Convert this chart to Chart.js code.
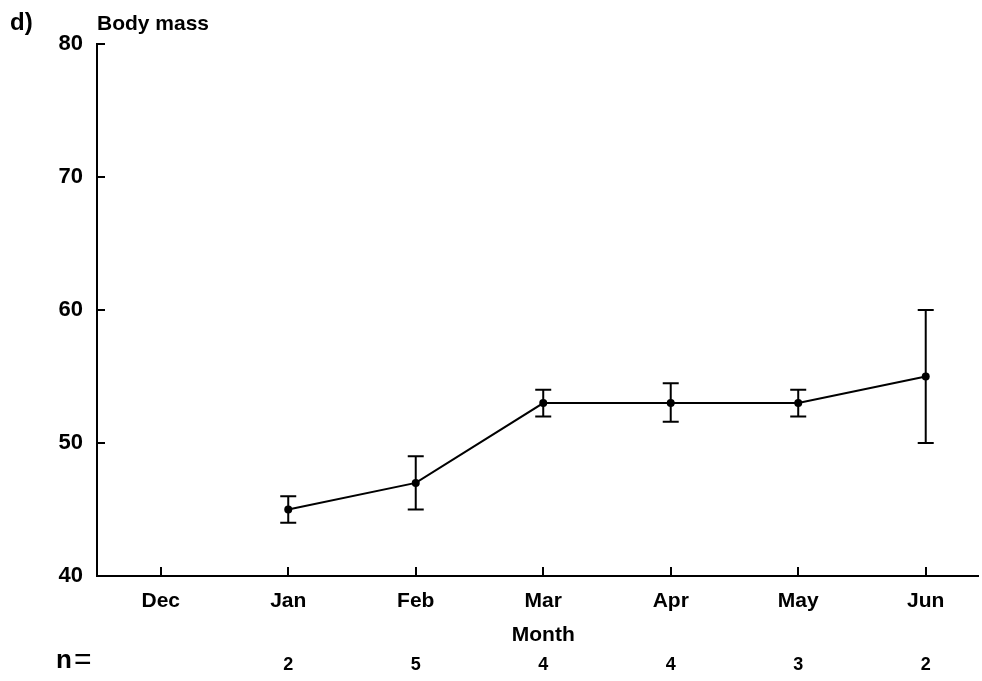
<!DOCTYPE html>
<html>
<head>
<meta charset="utf-8">
<script src="https://cdn.jsdelivr.net/npm/chart.js"></script>
<style>
  html, body { margin: 0; padding: 0; background: #fff; overflow: hidden; }
</style>
</head>
<body>
<canvas id="massChart" width="982" height="681"></canvas>
<script>
    // values
    const months = ['Dec', 'Jan', 'Feb', 'Mar', 'Apr', 'May', 'Jun'];
    const meanMass = [null, 45, 47, 53, 53, 53, 55];
    const lowMass = [null, 44, 45, 52, 51.6, 52, 50];
    const highMass = [null, 46, 49, 54, 54.5, 54, 60];
    const sampleN = ['', '2', '5', '4', '4', '3', '2'];
    const yTicks = [40, 50, 60, 70, 80];

    const FONT = "'Liberation Sans', Arial, Helvetica, sans-serif";
    const BLACK = '#000';

    const points = [];
    months.forEach((m, i) => {
        if (meanMass[i] !== null) points.push({ x: i, y: meanMass[i] });
    });

    // inward ticks, error bars and the loose texts
    const extras = {
        id: 'extras',
        beforeDatasetsDraw(chart) {
            const ctx = chart.ctx;
            const xs = chart.scales.x;
            const ys = chart.scales.y;
            ctx.save();
            ctx.strokeStyle = BLACK;
            ctx.lineWidth = 2;
            // error bars
            months.forEach((m, i) => {
                if (meanMass[i] === null) return;
                const px = xs.getPixelForValue(i);
                const top = ys.getPixelForValue(highMass[i]);
                const bot = ys.getPixelForValue(lowMass[i]);
                ctx.beginPath();
                ctx.moveTo(px, top); ctx.lineTo(px, bot);
                ctx.moveTo(px - 8, top); ctx.lineTo(px + 8, top);
                ctx.moveTo(px - 8, bot); ctx.lineTo(px + 8, bot);
                ctx.stroke();
            });
            ctx.restore();
        },
        afterDraw(chart) {
            const ctx = chart.ctx;
            const xs = chart.scales.x;
            const ys = chart.scales.y;
            const area = chart.chartArea;
            ctx.save();
            ctx.strokeStyle = BLACK;
            ctx.lineWidth = 2;
            ctx.beginPath();
            yTicks.forEach(v => {
                const py = Math.round(ys.getPixelForValue(v));
                ctx.moveTo(area.left, py); ctx.lineTo(area.left + 8, py);
            });
            months.forEach((m, i) => {
                const px = Math.round(xs.getPixelForValue(i));
                ctx.moveTo(px, area.bottom); ctx.lineTo(px, area.bottom - 9);
            });
            ctx.stroke();

            ctx.fillStyle = BLACK;
            ctx.textBaseline = 'alphabetic';
            ctx.textAlign = 'left';
            ctx.font = 'bold 24px ' + FONT;
            ctx.fillText('d)', 10, 30);
            ctx.font = 'bold 21px ' + FONT;
            ctx.fillText('Body mass', 97, 30);

            ctx.textAlign = 'center';
            ctx.textBaseline = 'middle';
            ctx.fillText('Month', xs.getPixelForValue(3), 635);

            ctx.textAlign = 'left';
            ctx.font = 'bold 26px ' + FONT;
            ctx.fillText('n', 56, 661);
            ctx.font = '30px ' + FONT;
            ctx.fillText('=', 74, 661);
            ctx.textAlign = 'center';
            ctx.font = 'bold 18px ' + FONT;
            sampleN.forEach((n, i) => {
                if (n) ctx.fillText(n, xs.getPixelForValue(i), 665);
            });
            ctx.restore();
        }
    };

    new Chart(document.getElementById('massChart'), {
        type: 'scatter',
        data: {
            datasets: [{
                label: 'Body mass',
                data: points,
                showLine: true,
                borderColor: BLACK,
                backgroundColor: BLACK,
                borderWidth: 2,
                pointRadius: 4,
                pointBorderWidth: 0
            }]
        },
        options: {
            responsive: false,
            animation: false,
            layout: { padding: { top: 44, left: 0, right: 0, bottom: 0 } },
            plugins: {
                legend: { display: false },
                tooltip: { enabled: false }
            },
            scales: {
                x: {
                    type: 'linear',
                    min: -0.5,
                    max: 6.41,
                    afterBuildTicks: (scale) => { scale.ticks = months.map((m, i) => ({ value: i })); },
                    afterFit: (scale) => { scale.height = 105; },
                    grid: { drawOnChartArea: false, drawTicks: false },
                    border: { color: BLACK, width: 2 },
                    ticks: {
                        padding: 13,
                        color: BLACK,
                        font: { family: FONT, size: 21, weight: 'bold' },
                        callback: (v) => months[v]
                    }
                },
                y: {
                    min: 40,
                    max: 80,
                    afterBuildTicks: (scale) => { scale.ticks = yTicks.map(v => ({ value: v })); },
                    afterFit: (scale) => { scale.width = 97; },
                    grid: { drawOnChartArea: false, drawTicks: false },
                    border: { color: BLACK, width: 2 },
                    ticks: {
                        padding: 14,
                        color: BLACK,
                        font: { family: FONT, size: 22, weight: 'bold' }
                    }
                }
            }
        },
        plugins: [extras]
    });
</script>
</body>
</html>
